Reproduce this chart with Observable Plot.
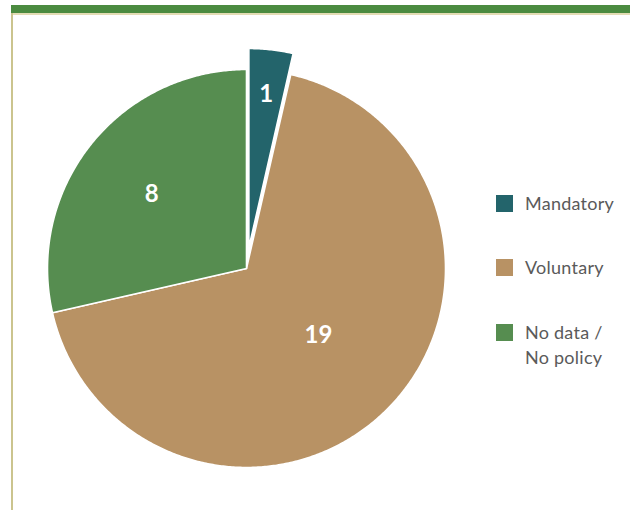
<!DOCTYPE html>
<html>
<head>
<meta charset="utf-8">
<script src="https://cdn.jsdelivr.net/npm/d3@7"></script>
<script src="https://cdn.jsdelivr.net/npm/@observablehq/plot@0.6"></script>
<style>
  html, body { margin: 0; padding: 0; background: #fff; }
  #wrap { position: relative; width: 630px; height: 510px; overflow: hidden; font-family: Lato, "Noto Sans", sans-serif; }
  #topbar { position: absolute; left: 11px; top: 5px; width: 619px; height: 8px; background: #4b8b40; }
  #topline { position: absolute; left: 11px; top: 13px; width: 619px; height: 1.5px; background: #e3dcb4; }
  #leftline { position: absolute; left: 11px; top: 13px; width: 1.5px; height: 497px; background: #cbc48e; }
  #chart { position: absolute; left: 0; top: 0; }
  #legend { position: absolute; left: 496px; top: 0; }
  .item { position: absolute; left: 0; display: flex; align-items: flex-start; white-space: nowrap; }
  .sw { width: 17px; height: 17px; margin-right: 12px; flex: none; }
  .lbl { font-size: 18px; letter-spacing: 0.25px; color: #5a5a5a; line-height: 25px; margin-top: -4px; }
</style>
</head>
<body>
<div id="wrap">
  <div id="topbar"></div>
  <div id="topline"></div>
  <div id="leftline"></div>
  <div id="chart"></div>
  <div id="legend"></div>
</div>
<script>
// ---- data ----
const categories = ["Mandatory", "Voluntary", "No data / No policy"];
const legendLines = [["Mandatory"], ["Voluntary"], ["No data /", "No policy"]];
const values = [1, 19, 8];
const colors = ["#23646b", "#b89264", "#568d50"];

// ---- layout (styling only) ----
const explode = [0.106, 0, 0];          // fraction of radius each slice is pulled out
const labelRadius = [0.78, 0.49, 0.61]; // label distance as fraction of radius
const labelDy = [1, -2, 1];
const legendTops = [195, 259, 324];

// build slice geometry from values
const arcs = d3.pie().sort(null).value(d => d)(values);
const polys = [];
const labels = [];
arcs.forEach((a, i) => {
  const mid = (a.startAngle + a.endAngle) / 2;
  const ox = Math.sin(mid) * explode[i];
  const oy = Math.cos(mid) * explode[i];
  const n = Math.max(4, Math.ceil((a.endAngle - a.startAngle) / (Math.PI / 360)));
  polys.push({cat: categories[i], x: ox, y: oy});
  for (let k = 0; k <= n; k++) {
    const t = a.startAngle + (a.endAngle - a.startAngle) * k / n;
    polys.push({cat: categories[i], x: ox + Math.sin(t), y: oy + Math.cos(t)});
  }
  polys.push({cat: categories[i], x: ox, y: oy});
  labels.push({
    cat: categories[i],
    value: values[i],
    dy: labelDy[i],
    x: ox + Math.sin(mid) * labelRadius[i],
    y: oy + Math.cos(mid) * labelRadius[i]
  });
});

const R = 199, CX = 246, CY = 268;
const plot = Plot.plot({
  width: 630,
  height: 510,
  margin: 0,
  x: {domain: [-1, 1], range: [CX - R, CX + R], axis: null},
  y: {domain: [-1, 1], range: [CY + R, CY - R], axis: null},
  color: {domain: categories, range: colors},
  style: {background: "transparent", overflow: "visible"},
  marks: [
    Plot.line(polys, {
      x: "x", y: "y", z: "cat", fill: "cat",
      stroke: "#ffffff", strokeWidth: 1.6, strokeLinejoin: "round", curve: "linear"
    }),
    ...labels.map(l => Plot.text([l], {
      x: "x", y: "y", text: d => String(d.value),
      fill: "#ffffff", fontSize: 24, fontWeight: "bold",
      fontFamily: "Lato, 'Noto Sans', sans-serif",
      textAnchor: "middle", dy: l.dy, dx: l.value === 19 ? 3 : 0
    }))
  ]
});
document.getElementById("chart").appendChild(plot);

// legend
const legend = document.getElementById("legend");
categories.forEach((c, i) => {
  const item = document.createElement("div");
  item.className = "item";
  item.style.top = legendTops[i] + "px";
  const sw = document.createElement("div");
  sw.className = "sw";
  sw.style.background = colors[i];
  const lbl = document.createElement("div");
  lbl.className = "lbl";
  lbl.innerHTML = legendLines[i].join("<br>");
  item.appendChild(sw);
  item.appendChild(lbl);
  legend.appendChild(item);
});
</script>
</body>
</html>
